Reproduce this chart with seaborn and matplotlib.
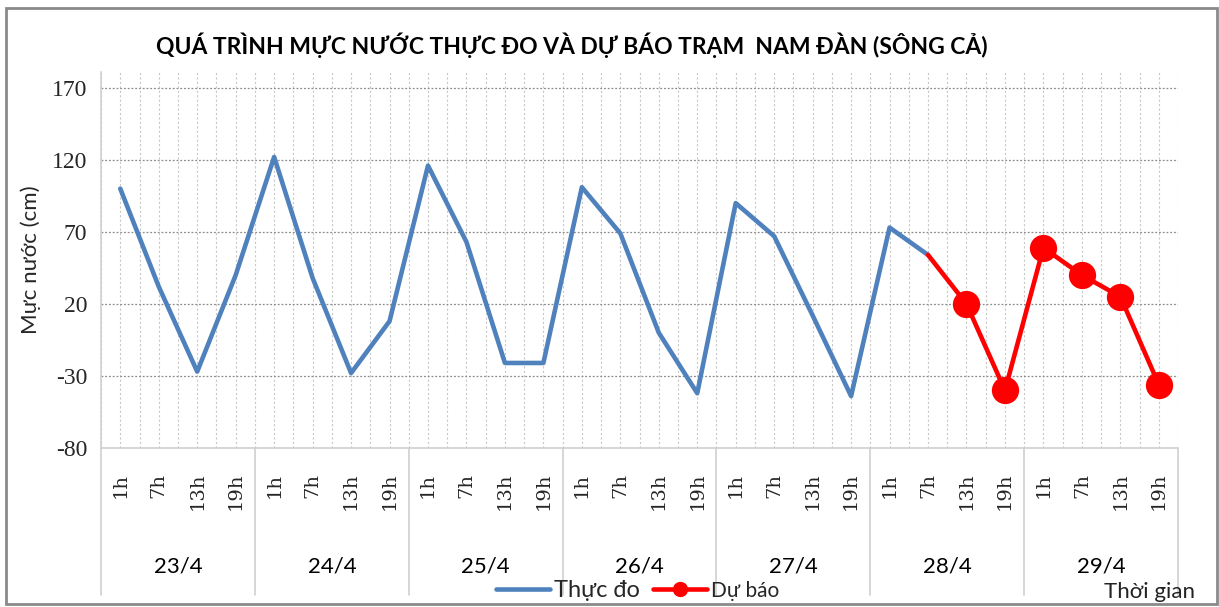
import matplotlib
matplotlib.use("Agg")
import matplotlib.pyplot as plt
from matplotlib.lines import Line2D
from matplotlib.patches import Rectangle
import numpy as np
import pandas as pd
import seaborn as sns

sns.set_style("white")
plt.rcParams['font.family'] = ['Lato', 'DejaVu Sans']
plt.rcParams['axes.unicode_minus'] = False

days = ["23/4", "24/4", "25/4", "26/4", "27/4", "28/4", "29/4"]
hours = ["1h", "7h", "13h", "19h"]
# measured water level (cm), 23/4 1h .. 28/4 7h
observed = [100, 32, -27, 40,
            122, 38, -28, 8,
            116, 63, -21, -21,
            101, 69, 0, -42,
            90, 67, 12, -44,
            73, 54]
# forecast, 28/4 7h .. 29/4 19h (first point joins the measured line)
forecast = [54, 20, -40, 59, 40, 25, -36]

blue = "#4F81BD"
red = "#FF0000"

obs_df = pd.DataFrame({"pos": range(len(observed)), "level": observed})
fc_start = len(observed) - 1
fc_df = pd.DataFrame({"pos": range(fc_start, fc_start + len(forecast)), "level": forecast})
n = len(days) * len(hours)

fig = plt.figure(figsize=(12.19, 6.07), dpi=100)
ax = fig.add_axes([0.0829, 0.262, 0.8835, 0.6194])

sns.lineplot(data=obs_df, x="pos", y="level", color=blue, lw=3.3, ax=ax)
sns.lineplot(data=fc_df, x="pos", y="level", color=red, lw=3.3, ax=ax)
sns.scatterplot(data=fc_df.iloc[1:], x="pos", y="level", color=red, s=330,
                edgecolor=red, ax=ax, zorder=5)

ax.set_xlim(-0.5, n - 0.5)
ax.set_ylim(-80, 181)
ax.set_yticks([-80, -30, 20, 70, 120, 170])
ax.set_xticks(range(n))
ax.set_xticklabels(hours * len(days), rotation=90)
ax.set_xticks(np.arange(-0.5, n, 1), minor=True)
ax.tick_params(which="both", length=0)
ax.tick_params(axis="x", pad=18)
ax.tick_params(axis="y", pad=10)
for lab in ax.get_xticklabels():
    lab.set_fontfamily("DejaVu Serif")
    lab.set_fontsize(14)
for lab in ax.get_yticklabels():
    lab.set_fontfamily("Liberation Serif")
    lab.set_fontsize(17)

ax.grid(axis="x", which="both", color="#C8C8C8", linestyle=(0, (2, 2)), lw=0.8)
ax.grid(axis="y", which="major", color="#8C8C8C", linestyle=(0, (1.5, 1.5)), lw=0.9)
ax.set_axisbelow(True)

for side in ["top", "right"]:
    ax.spines[side].set_visible(False)
for side in ["left", "bottom"]:
    ax.spines[side].set_color("#D0D0D0")
    ax.spines[side].set_linewidth(1.2)

# day separators and day labels below the axis
trans = ax.get_xaxis_transform()
for k in range(len(days) + 1):
    ax.plot([k * 4 - 0.5, k * 4 - 0.5], [0, -0.39], transform=trans,
            color="#D0D0D0", lw=1.2, clip_on=False)
for k, d in enumerate(days):
    ax.text(k * 4 + 1.5, -0.316, d, transform=trans, ha="center", va="center",
            fontsize=16, color="black")

ax.set_xlabel("")
ax.set_ylabel("Mực nước (cm)", fontsize=16, labelpad=8)

fig.text(0.469, 0.925, "QUÁ TRÌNH MỰC NƯỚC THỰC ĐO VÀ DỰ BÁO TRẠM  NAM ĐÀN (SÔNG CẢ)",
         ha="center", va="center", fontsize=16.5, fontweight="bold", color="black")
fig.text(0.98, 0.025, "Thời gian", ha="right", va="center", fontsize=16, color="#222222")

handles = [Line2D([], [], color=blue, lw=3.3),
           Line2D([], [], color=red, lw=3.3, marker="o", markersize=10)]
leg = fig.legend(handles, ["Thực đo", "Dự báo"], loc="center", ncol=2,
                 bbox_to_anchor=(0.523, 0.028), frameon=False, fontsize=15,
                 handlelength=2.6, handletextpad=0.2, columnspacing=0.6)
leg.get_texts()[0].set_fontsize(17)

fig.patches.append(Rectangle((0.005, 0.005), 0.993, 0.982, transform=fig.transFigure,
                             fill=False, edgecolor="#8A8A8A", lw=2))

fig.savefig("out.png", dpi=100)
